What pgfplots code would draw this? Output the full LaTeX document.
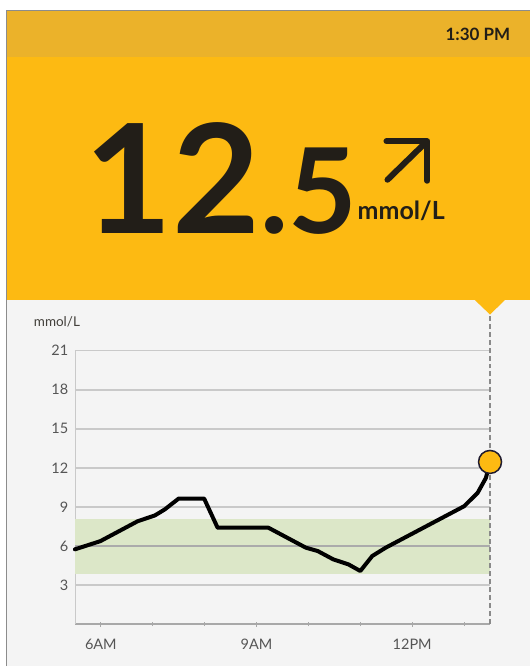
\documentclass[border=0pt]{standalone}
\usepackage{fontspec}
\setmainfont{Lato}
\usepackage{pgfplots}
\pgfplotsset{compat=1.18}
\definecolor{yelmain}{HTML}{FDBA12}
\definecolor{yelhead}{HTML}{EBB22A}
\definecolor{chartbg}{HTML}{F4F4F4}
\definecolor{border}{HTML}{8C8C8C}
\definecolor{gridgray}{HTML}{C9C9C9}
\definecolor{axisgray}{HTML}{A8A8A8}
\definecolor{band}{HTML}{DCE7C8}
\definecolor{ink}{HTML}{221E18}
\definecolor{labgray}{HTML}{555555}
\definecolor{dashgray}{HTML}{8A8A8A}

\begin{document}
\begin{tikzpicture}[x=1pt,y=1pt]
\fill[white] (0,0) rectangle (531,667);
% panels
\fill[chartbg] (7,0) rectangle (531,367);
\fill[yelmain] (7,367) rectangle (531,656);
\fill[yelmain] (475,367) -- (506,367) -- (490.7,352) -- cycle;
\fill[yelhead] (7,610) rectangle (531,656);
\draw[border, line width=1.8] (6.5,0) -- (6.5,656.5) -- (531,656.5);

% header text
\node[anchor=base east, inner sep=0, text=ink, font=\bfseries\fontsize{17}{17}\selectfont]
  at (511,626.5) {1:30 PM};
\node[anchor=base west, inner sep=0, text=ink, font=\bfseries\fontsize{152}{152}\selectfont]
  at (84,433) {12{\fontsize{118.6}{118.6}\selectfont.5}};
\node[anchor=base west, inner sep=0, text=ink, font=\bfseries\fontsize{25}{25}\selectfont]
  at (358,447.5) {mmol/L};
\draw[ink, line width=6, line cap=round, line join=round]
  (388,487) -- (427,525);
\draw[ink, line width=6, line cap=round, line join=round]
  (387,525.5) -- (428,525.5) -- (428,486);

% chart unit label
\node[anchor=center, inner sep=0, text=ink!85, font=\fontsize{13.5}{13.5}\selectfont]
  at (57,344.3) {mmol/L};

\begin{axis}[
  at={(75pt,42pt)}, anchor=south west,
  scale only axis, width=415.7pt, height=274pt,
  xmin=5.5, xmax=13.5, ymin=0, ymax=21,
  clip=false,
  axis x line*=bottom, axis y line*=left,
  x axis line style={draw=axisgray, line width=1.5pt, -},
  y axis line style={draw=gridgray, line width=0.8pt, -},
  xtick={6,9,12}, xticklabels={6AM,9AM,12PM},
  minor xtick={7,8,10,11,13},
  ytick={3,6,...,21},
  ymajorgrids,
  grid style={draw=gridgray, line width=1.8pt},
  ytick style={draw=none},
  xtick style={draw=axisgray, line width=1pt},
  minor tick style={draw=axisgray, line width=1pt},
  tick align=center, major tick length=5pt, minor tick length=4pt,
  /pgf/number format/assume math mode=true,
  ticklabel style={font=\fontsize{14.5}{14.5}\selectfont, text=labgray},
  yticklabel style={anchor=east, inner sep=0pt, xshift=-4pt},
  xticklabel style={anchor=north, inner sep=0pt, yshift=-12pt},
]
% target range band
\addplot[fill=band, draw=none]
  coordinates {(5.5,3.85) (13.5,3.85) (13.5,8.1) (5.5,8.1)};
% grid line that shows through the band
\addplot[draw=gridgray!85!black, line width=1.2pt]
  coordinates {(5.5,6) (13.5,6)};
\addplot[dashgray, line width=1.5pt, dash pattern=on 5pt off 3pt]
  coordinates {(13.5,0) (13.5,23.8)};
\addplot[black, line width=4pt, line join=round, line cap=round] coordinates {
  (5.50,5.74) (5.99,6.37) (6.71,7.90) (7.04,8.34) (7.23,8.80)
  (7.50,9.64) (7.99,9.64) (8.25,7.40) (9.23,7.40) (9.95,5.87)
  (10.18,5.61) (10.48,4.97) (10.77,4.59) (11.00,4.08) (11.23,5.23)
  (11.49,5.87) (13.00,9.05) (13.26,10.07) (13.42,11.22) (13.50,12.45)
};
\addplot[only marks, mark=*, mark size=11.5pt,
  mark options={fill=yelmain, draw=ink!90!blue, line width=1.5pt}]
  coordinates {(13.5,12.45)};
\end{axis}
\end{tikzpicture}
\end{document}
